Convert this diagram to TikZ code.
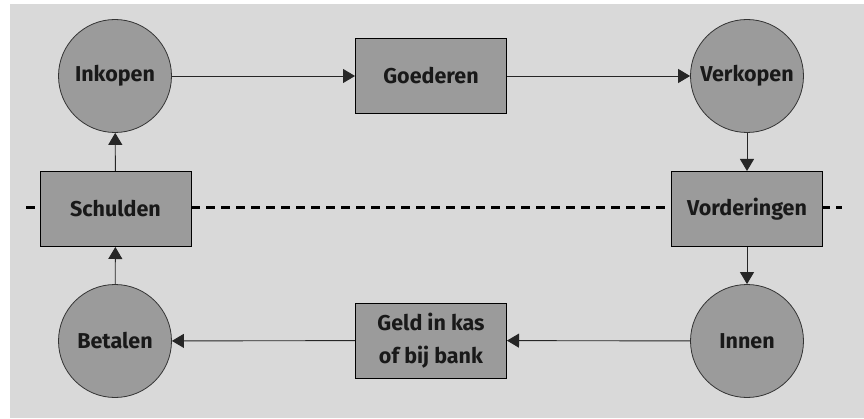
\documentclass[tikz,border=0pt]{standalone}
\usepackage{fontspec}
\setmainfont{Fira Sans}
\usetikzlibrary{arrows.meta}
\definecolor{bgc}{HTML}{D9D9D9}
\definecolor{nodec}{HTML}{9B9B9B}
\definecolor{linec}{HTML}{333333}
\tikzset{
  x=1pt, y=1pt,
  lbl/.style={font=\fontsize{21.5}{33}\selectfont\bfseries, text=black!90, align=center},
  circ/.style={lbl, circle, draw=linec, line width=0.8pt, fill=nodec, minimum size=113pt, inner sep=0pt},
  box/.style={lbl, rectangle, draw=black, line width=1pt, fill=nodec, minimum width=151pt, minimum height=75pt, inner sep=0pt},
  conn/.style={draw=black!85, line width=0.9pt, -{Triangle[length=12pt, width=14pt]}},
  divider/.style={line width=3pt, dash pattern=on 9pt off 6pt}
}
\begin{document}
\begin{tikzpicture}
\useasboundingbox (0,0) rectangle (864,418);
\fill[bgc] (10,0) rectangle (864,414);
% dashed divider (behind boxes)
\coordinate (dl) at (26,210);
\coordinate (dr) at (842,210);
\draw[divider] (dl) -- (dr);
% nodes
\node[circ] (ink) at (115,342) {Inkopen};
\node[box]  (goe) at (431,342) {Goederen};
\node[circ] (ver) at (747,342) {Verkopen};
\node[box]  (sch) at (115.5,209) {Schulden};
\node[box]  (vor) at (747,209) {Vorderingen};
\node[circ] (bet) at (115,77) {Betalen};
\node[box]  (gel) at (431,77.5) {Geld in kas\\of bij bank};
\node[circ] (inn) at (747,77) {Innen};
% connectors
\draw[conn] (ink) -- (goe);
\draw[conn] (goe) -- (ver);
\draw[conn] (ver) -- (vor);
\draw[conn] (vor) -- (inn);
\draw[conn] (inn) -- (gel);
\draw[conn] (gel) -- (bet);
\draw[conn] (bet) -- (sch);
\draw[conn] (sch) -- (ink);
\end{tikzpicture}
\end{document}
